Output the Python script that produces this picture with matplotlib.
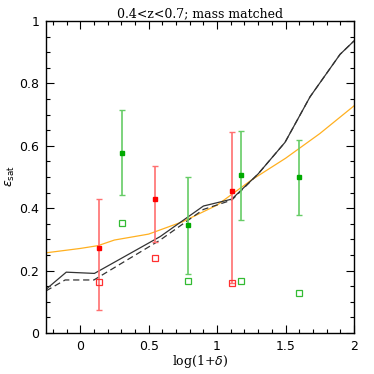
import matplotlib
matplotlib.use("Agg")
import matplotlib.pyplot as plt
from matplotlib.ticker import MultipleLocator

# Data
red_x = [0.134, 0.545, 1.112]
red_y = [0.273, 0.428, 0.455]
red_lo = [0.074, 0.293, 0.160]
red_hi = [0.430, 0.536, 0.643]
red_open_y = [0.162, 0.239, 0.160]

green_x = [0.307, 0.786, 1.173, 1.599]
green_y = [0.578, 0.345, 0.506, 0.501]
green_lo = [0.441, 0.190, 0.362, 0.379]
green_hi = [0.715, 0.499, 0.648, 0.620]
green_open_y = [0.354, 0.168, 0.166, 0.127]

solid_x = [-0.25, -0.102, 0.104, 0.584, 0.90, 1.107, 1.30, 1.496, 1.679, 1.898, 2.0]
solid_y = [0.140, 0.195, 0.191, 0.309, 0.407, 0.429, 0.51, 0.611, 0.757, 0.893, 0.936]
dash_x = [-0.25, -0.11, 0.10, 0.584, 0.90, 1.107, 1.30, 1.496, 1.679, 1.898, 2.0]
dash_y = [0.135, 0.170, 0.170, 0.298, 0.396, 0.426, 0.51, 0.611, 0.757, 0.893, 0.936]

orange_x = [-0.25, 0.0, 0.13, 0.25, 0.5, 0.75, 1.0, 1.25, 1.5, 1.75, 2.0]
orange_y = [0.257, 0.271, 0.280, 0.298, 0.317, 0.357, 0.41, 0.49, 0.56, 0.639, 0.728]

fig = plt.figure(figsize=(3.74, 3.74), dpi=100)
ax = fig.add_axes([0.123, 0.1096, 0.8235, 0.8343])

ax.plot(orange_x, orange_y, color='#ffb020', lw=0.9)
ax.plot(solid_x, solid_y, color='#333333', lw=0.9)
ax.plot(dash_x, dash_y, color='#333333', lw=0.9, ls=(0, (5, 3)))

rerr = [[y - l for y, l in zip(red_y, red_lo)], [h - y for y, h in zip(red_y, red_hi)]]
gerr = [[y - l for y, l in zip(green_y, green_lo)], [h - y for y, h in zip(green_y, green_hi)]]
ax.errorbar(red_x, red_y, yerr=rerr, fmt='none', ecolor='#ff7070', elinewidth=1.2, capsize=2.5, capthick=1.0)
ax.errorbar(green_x, green_y, yerr=gerr, fmt='none', ecolor='#66cc66', elinewidth=1.2, capsize=2.5, capthick=1.0)
ax.plot(red_x, red_y, 's', color='#ff0000', ms=3.5, mec='#ff0000')
ax.plot(green_x, green_y, 's', color='#00aa00', ms=3.5, mec='#00aa00')
ax.plot(red_x, red_open_y, 's', mfc='none', mec='#ff3030', ms=4, mew=0.9)
ax.plot(green_x, green_open_y, 's', mfc='none', mec='#33bb33', ms=4, mew=0.9)

ax.set_xlim(-0.25, 2.0)
ax.set_ylim(0, 1)
ax.xaxis.set_major_locator(MultipleLocator(0.5))
ax.xaxis.set_minor_locator(MultipleLocator(0.1))
ax.yaxis.set_major_locator(MultipleLocator(0.2))
ax.yaxis.set_minor_locator(MultipleLocator(0.05))
ax.tick_params(which='both', direction='in', top=True, right=True, labelsize=9, pad=5)
ax.tick_params(which='major', length=6, width=0.8)
ax.tick_params(which='minor', length=3, width=0.8)
ax.set_xticks([0, 0.5, 1, 1.5, 2])
ax.set_xticklabels(['0', '0.5', '1', '1.5', '2'])
ax.set_yticks([0, 0.2, 0.4, 0.6, 0.8, 1])
ax.set_yticklabels(['0', '0.2', '0.4', '0.6', '0.8', '1'])
for lab in ax.get_xticklabels() + ax.get_yticklabels():
    lab.set_family('DejaVu Sans')
for s in ax.spines.values():
    s.set_linewidth(1.0)

ax.set_title('0.4<z<0.7; mass matched', family='DejaVu Serif', fontsize=9, pad=3)
fig.text(200 / 374, 1 - 362 / 374, r'log(1+$\delta$)', family='DejaVu Serif', fontsize=9,
         ha='center', va='center')
fig.text(10 / 374, 1 - 176 / 374, r'$\epsilon_{\rm sat}$', fontsize=9, rotation=90,
         ha='center', va='center')

fig.savefig('out.png', dpi=100)
